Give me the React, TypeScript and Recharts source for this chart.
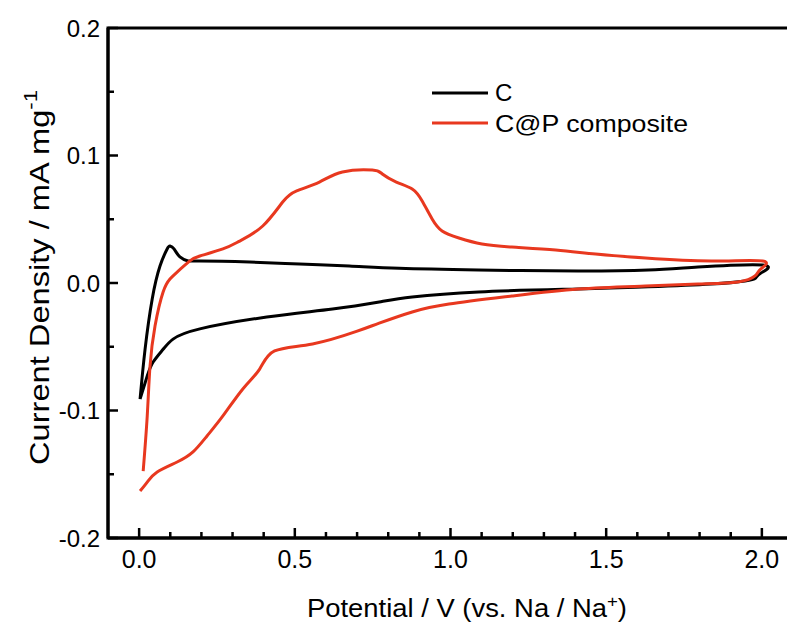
import React from 'react';
import { LineChart, Line, XAxis, YAxis, Legend } from 'recharts';

// Potential (V vs Na/Na+) and current density (mA mg^-1)
const cPotential = [0.003, 0.019, 0.042, 0.067, 0.09, 0.099, 0.112, 0.131, 0.157, 0.195, 0.355, 0.515, 0.675, 0.835, 1.09, 1.41, 1.635, 1.795, 2.003, 1.997, 1.98, 1.946, 1.837, 1.635, 1.41, 1.09, 0.877, 0.771, 0.621, 0.41, 0.195, 0.109, 0.077, 0.045, 0.026, 0.003];
const cCurrent = [-0.091, -0.052, -0.0125, 0.0133, 0.0267, 0.029, 0.0267, 0.0204, 0.0173, 0.0173, 0.0165, 0.0149, 0.0133, 0.0115, 0.0102, 0.0094, 0.0102, 0.0125, 0.0141, 0.0078, 0.0039, 0.0016, -0.0008, -0.003, -0.0047, -0.007, -0.011, -0.0149, -0.0204, -0.0267, -0.036, -0.044, -0.052, -0.062, -0.073, -0.091];

const cpPotential = [0.013, 0.026, 0.035, 0.051, 0.077, 0.099, 0.122, 0.163, 0.195, 0.269, 0.323, 0.397, 0.461, 0.506, 0.579, 0.653, 0.749, 0.781, 0.826, 0.877, 0.909, 0.941, 0.973, 1.027, 1.101, 1.197, 1.338, 1.466, 1.626, 1.837, 2.003, 1.997, 1.978, 1.923, 1.795, 1.626, 1.411, 1.197, 0.995, 0.877, 0.771, 0.698, 0.557, 0.435, 0.387, 0.333, 0.269, 0.218, 0.173, 0.122, 0.058, 0.026, 0.003];
const cpCurrent = [-0.1475, -0.1043, -0.0651, -0.0337, -0.0071, 0.0031, 0.0086, 0.0173, 0.0212, 0.0267, 0.0329, 0.0447, 0.0635, 0.0722, 0.0792, 0.0871, 0.0886, 0.0855, 0.0792, 0.0737, 0.0643, 0.0502, 0.0408, 0.0353, 0.0306, 0.0282, 0.0259, 0.0227, 0.0196, 0.0173, 0.0173, 0.011, 0.0055, 0.0008, -0.0008, -0.0024, -0.0047, -0.0102, -0.0165, -0.0227, -0.0315, -0.038, -0.0478, -0.0533, -0.0675, -0.0831, -0.1043, -0.12, -0.1325, -0.1404, -0.1482, -0.1561, -0.1631];

const xMajorTicks = [0, 0.5, 1.0, 1.5, 2.0];
const xMinorTicks = [0.1, 0.2, 0.3, 0.4, 0.6, 0.7, 0.8, 0.9, 1.1, 1.2, 1.3, 1.4, 1.6, 1.7, 1.8, 1.9];
const yMajorTicks = [-0.2, -0.1, 0, 0.1, 0.2];
const yMinorTicks = [-0.15, -0.05, 0.05, 0.15];

const xDomain = [-0.1, 2.1];
const yDomain = [-0.2, 0.2];

const seriesNames = ['C', 'C@P composite'];
const RED = '#e8381f';
const FONT = '"Liberation Sans", Arial, sans-serif';

const CHART_W = 787;
const CHART_H = 616;
const MARGIN = { top: 20, right: 2, left: 0, bottom: 36 };
const Y_AXIS_W = 100;
const X_AXIS_H = 50;

const cData = cPotential.map((x, i) => ({ x, y: cCurrent[i] }));
const cpData = cpPotential.map((x, i) => ({ x, y: cpCurrent[i] }));

const MAJOR_LEN = 10;
const MINOR_LEN = 6;
const TICK_W = 2.5;

// plot box derived from the chart layout (same numbers given to the chart below)
const PLOT = {
  left: MARGIN.left + Y_AXIS_W,
  top: MARGIN.top,
  right: CHART_W - MARGIN.right,
  bottom: CHART_H - MARGIN.bottom - X_AXIS_H,
};
const sx = (v: number) => PLOT.left + ((v - xDomain[0]) / (xDomain[1] - xDomain[0])) * (PLOT.right - PLOT.left);
const sy = (v: number) => PLOT.top + ((yDomain[1] - v) / (yDomain[1] - yDomain[0])) * (PLOT.bottom - PLOT.top);

// overlay drawn by the legend: frame, inward tick marks and legend entries
const Overlay = () => (
  <svg width={CHART_W} height={CHART_H} style={{ display: 'block', pointerEvents: 'none' }}>
    <rect
      x={PLOT.left}
      y={PLOT.top}
      width={PLOT.right - PLOT.left}
      height={PLOT.bottom - PLOT.top}
      fill="none"
      stroke="#000"
      strokeWidth={3}
    />
    {xMajorTicks.map((v) => (
      <line key={`xM${v}`} x1={sx(v)} x2={sx(v)} y1={PLOT.bottom} y2={PLOT.bottom - MAJOR_LEN} stroke="#000" strokeWidth={TICK_W} />
    ))}
    {xMinorTicks.map((v) => (
      <line key={`xm${v}`} x1={sx(v)} x2={sx(v)} y1={PLOT.bottom} y2={PLOT.bottom - MINOR_LEN} stroke="#000" strokeWidth={TICK_W} />
    ))}
    {yMajorTicks.map((v) => (
      <line key={`yM${v}`} x1={PLOT.left} x2={PLOT.left + MAJOR_LEN} y1={sy(v)} y2={sy(v)} stroke="#000" strokeWidth={TICK_W} />
    ))}
    {yMinorTicks.map((v) => (
      <line key={`ym${v}`} x1={PLOT.left} x2={PLOT.left + MINOR_LEN} y1={sy(v)} y2={sy(v)} stroke="#000" strokeWidth={TICK_W} />
    ))}
    <g transform="translate(420, 72)">
      <line x1={4} x2={60} y1={13} y2={13} stroke="#000" strokeWidth={3} />
      <text x={67} y={21} fontSize={24} fontFamily={FONT} fill="#000">{seriesNames[0]}</text>
      <line x1={4} x2={60} y1={43} y2={43} stroke={RED} strokeWidth={3} />
      <text x={67} y={52} fontSize={24} fontFamily={FONT} fill="#000" textLength={193} lengthAdjust="spacingAndGlyphs">
        {seriesNames[1]}
      </text>
    </g>
  </svg>
);

const XTitle = () => (
  <text x={299} y={609} fontSize={25} fontFamily={FONT} fill="#000" textLength={320} lengthAdjust="spacingAndGlyphs">
    Potential / V (vs. Na / Na
    <tspan dy={-10} fontSize={17}>+</tspan>
    <tspan dy={10}>)</tspan>
  </text>
);

const YTitle = () => (
  <text
    x={41}
    y={457}
    transform="rotate(-90, 41, 457)"
    fontSize={28}
    fontFamily={FONT}
    fill="#000"
    textLength={375}
    lengthAdjust="spacingAndGlyphs"
  >
    Current Density / mA mg
    <tspan dy={-12} fontSize={19}>-1</tspan>
  </text>
);

const fmt = (v: number) => v.toFixed(1);
const frameLine = { stroke: '#000', strokeWidth: 3 };

export default function App() {
  return (
    <div style={{ width: CHART_W, height: CHART_H, background: '#fff' }}>
      <LineChart width={CHART_W} height={CHART_H} margin={MARGIN}>
        <XAxis
          dataKey="x"
          type="number"
          domain={xDomain}
          ticks={xMajorTicks}
          interval={0}
          axisLine={frameLine}
          tickLine={false}
          tickSize={0}
          tickMargin={12}
          height={X_AXIS_H}
          tickFormatter={fmt}
          tick={{ fontSize: 25, fill: '#000', fontFamily: FONT }}
          label={{ content: () => <XTitle /> }}
        />
        <YAxis
          type="number"
          domain={yDomain}
          ticks={yMajorTicks}
          interval={0}
          axisLine={frameLine}
          tickLine={false}
          tickSize={0}
          tickMargin={8}
          width={Y_AXIS_W}
          tickFormatter={fmt}
          tick={{ fontSize: 24, fill: '#000', fontFamily: FONT }}
          label={{ content: () => <YTitle /> }}
        />
        <Line data={cData} dataKey="y" name={seriesNames[0]} type="natural" stroke="#000" strokeWidth={3} dot={false} isAnimationActive={false} />
        <Line data={cpData} dataKey="y" name={seriesNames[1]} type="natural" stroke={RED} strokeWidth={3} dot={false} isAnimationActive={false} />
        <Legend
          layout="vertical"
          align="center"
          verticalAlign="middle"
          content={() => <Overlay />}
          wrapperStyle={{ position: 'absolute', left: 0, top: 0, width: CHART_W, height: CHART_H, pointerEvents: 'none' }}
        />
      </LineChart>
    </div>
  );
}
